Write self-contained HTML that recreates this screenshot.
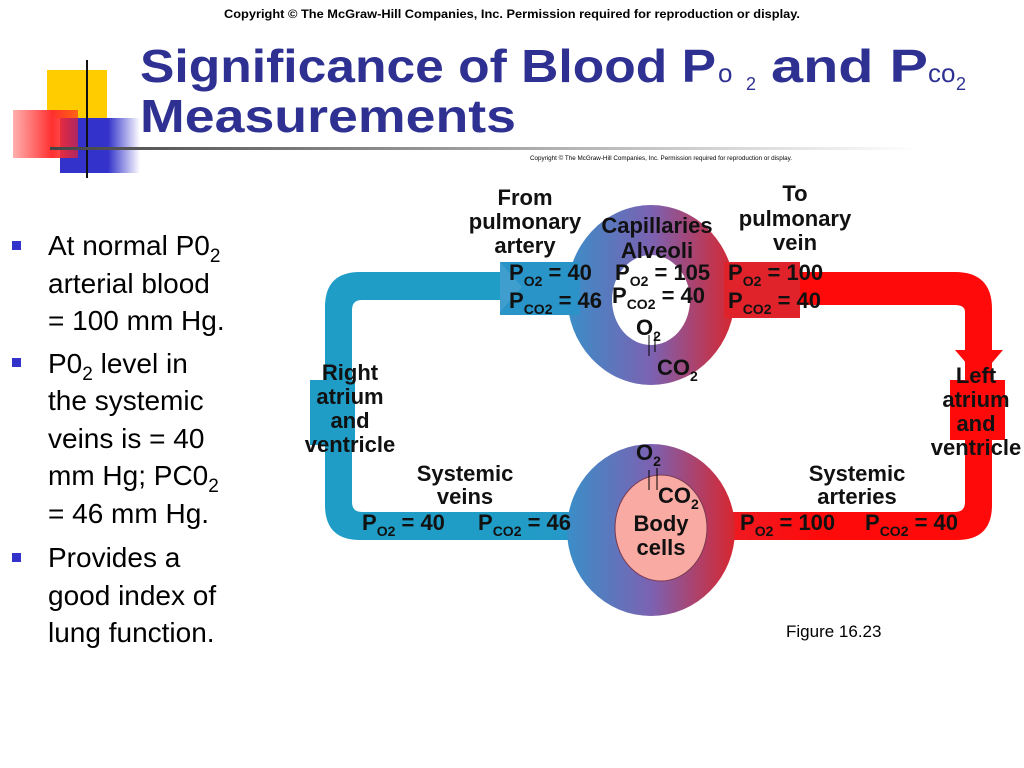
<!DOCTYPE html>
<html><head><meta charset="utf-8"><style>
html,body{margin:0;padding:0;background:#fff;width:1024px;height:768px;overflow:hidden}
svg text{font-family:"Liberation Sans",sans-serif}
</style></head><body>
<svg width="1024" height="768" viewBox="0 0 1024 768" xmlns="http://www.w3.org/2000/svg">
<defs>
<linearGradient id="hg" x1="0" y1="0" x2="1" y2="0" gradientUnits="objectBoundingBox">
<stop offset="0" stop-color="#1f9dc6"/><stop offset="0.36" stop-color="#2a95c8"/>
<stop offset="0.5" stop-color="#7a64b4"/><stop offset="0.62" stop-color="#e8202a"/><stop offset="1" stop-color="#ff0a0a"/></linearGradient>
<linearGradient id="rg" x1="0" y1="0" x2="1" y2="0">
<stop offset="0" stop-color="#3a8ec8"/><stop offset="0.5" stop-color="#7b62b2"/><stop offset="1" stop-color="#d7262f"/></linearGradient>
<linearGradient id="gl" x1="0" y1="0" x2="1" y2="0"><stop offset="0" stop-color="#444"/><stop offset="1" stop-color="#fff"/></linearGradient>
<linearGradient id="rf" x1="0" y1="0" x2="1" y2="0"><stop offset="0" stop-color="#ffb0b0"/><stop offset="0.6" stop-color="#ff3030"/><stop offset="1" stop-color="#ff2020" stop-opacity="0.6"/></linearGradient>
<linearGradient id="bf" x1="0" y1="0" x2="1" y2="0"><stop offset="0" stop-color="#3333cc"/><stop offset="0.6" stop-color="#3333cc"/><stop offset="1" stop-color="#fff"/></linearGradient>
</defs>
<rect x="47" y="70" width="60" height="48" fill="#ffcc00"/>
<rect x="60" y="118" width="80" height="55" fill="url(#bf)"/>
<rect x="13" y="110" width="65" height="48" fill="url(#rf)"/>
<line x1="87" y1="60" x2="87" y2="178" stroke="#111" stroke-width="2"/>
<rect x="50" y="147" width="870" height="3" fill="url(#gl)"/>
<text x="512" y="18" font-size="12" font-weight="bold" text-anchor="middle" textLength="576" lengthAdjust="spacingAndGlyphs">Copyright © The McGraw-Hill Companies, Inc. Permission required for reproduction or display.</text>
<text x="530" y="160" font-size="6" textLength="262" lengthAdjust="spacingAndGlyphs">Copyright © The McGraw-Hill Companies, Inc. Permission required for reproduction or display.</text>
<g fill="#2e3192" font-weight="bold">
<text x="140" y="82" font-size="46" textLength="576" lengthAdjust="spacingAndGlyphs">Significance of Blood P</text>
<text x="718" y="82" font-size="26" font-weight="normal">o</text><text x="746" y="90" font-size="18" font-weight="normal">2</text>
<text x="771" y="82" font-size="46" textLength="157" lengthAdjust="spacingAndGlyphs">and P</text>
<text x="928" y="82" font-size="26" font-weight="normal">co</text><text x="956" y="90" font-size="18" font-weight="normal">2</text>
<text x="140" y="132" font-size="46" textLength="376" lengthAdjust="spacingAndGlyphs">Measurements</text>
</g>
<g fill="#3333cc"><rect x="12" y="241" width="9" height="9"/><rect x="12" y="358" width="9" height="9"/><rect x="12" y="553" width="9" height="9"/></g>
<g font-size="28" fill="#000">
<text x="48" y="255">At normal P0<tspan font-size="19" dy="7">2</tspan></text>
<text x="48" y="293">arterial blood</text>
<text x="48" y="330">= 100 mm Hg.</text>
<text x="48" y="373">P0<tspan font-size="19" dy="7">2</tspan><tspan dy="-7"> level in</tspan></text>
<text x="48" y="410">the systemic</text>
<text x="48" y="448">veins is = 40</text>
<text x="48" y="485">mm Hg; PC0<tspan font-size="19" dy="7">2</tspan></text>
<text x="48" y="523">= 46 mm Hg.</text>
<text x="48" y="567">Provides a</text>
<text x="48" y="605">good index of</text>
<text x="48" y="642">lung function.</text>
</g>
<path d="M500 272 L360 272 Q325 272 325 307 L325 505 Q325 540 360 540 L567 540 L567 512 L362 512 Q352 512 352 502 L352 310 Q352 300 362 300 L500 300 Z" fill="#1f9dc6"/>
<path d="M800 272 L955 272 Q992 272 992 309 L992 505 Q992 540 957 540 L735 540 L735 512 L955 512 Q965 512 965 502 L965 312 Q965 305 955 305 L800 305 Z" fill="#ff0a0a"/>
<path d="M955 350 L1003 350 L979 378 Z" fill="#ff0a0a"/>
<rect x="310" y="380" width="45" height="65" fill="#1f9dc6"/>
<rect x="950" y="380" width="55" height="60" fill="#ff0a0a"/>
<rect x="500" y="262" width="300" height="53" fill="url(#hg)"/>
<path d="M500 262 L522 287 L500 312 Z" fill="#fff"/>
<ellipse cx="651" cy="295" rx="84" ry="90" fill="url(#rg)"/>
<rect x="500" y="262" width="80" height="53" fill="#2a93c8" opacity="0.9"/>
<rect x="724" y="262" width="76" height="56" fill="#e0232b"/>
<ellipse cx="651" cy="300" rx="39" ry="45" fill="#fff"/>
<path d="M500 512 L820 512 L820 540 L500 540 Z" fill="url(#hg)"/>
<ellipse cx="651" cy="530" rx="84" ry="86" fill="url(#rg)"/>
<ellipse cx="661" cy="528" rx="46" ry="53" fill="#f9aaa2" stroke="#7a3a50" stroke-width="1"/>
<g stroke="#000" stroke-width="1"><line x1="649" y1="335" x2="649" y2="356"/><line x1="655" y1="333" x2="655" y2="352"/>
<line x1="649" y1="470" x2="649" y2="490"/><line x1="657" y1="468" x2="657" y2="490"/></g>
<g font-size="22" font-weight="bold" fill="#111" text-anchor="middle">
<text x="525" y="205">From</text><text x="525" y="229">pulmonary</text><text x="525" y="253">artery</text>
<text x="795" y="201">To</text><text x="795" y="226">pulmonary</text><text x="795" y="250">vein</text>
<text x="657" y="233">Capillaries</text><text x="657" y="258">Alveoli</text>
<text x="350" y="380">Right</text><text x="350" y="404">atrium</text><text x="350" y="428">and</text><text x="350" y="452">ventricle</text>
<text x="976" y="383">Left</text><text x="976" y="407">atrium</text><text x="976" y="431">and</text><text x="976" y="455">ventricle</text>
<text x="465" y="481">Systemic</text><text x="465" y="504">veins</text>
<text x="857" y="481">Systemic</text><text x="857" y="504">arteries</text>
<text x="661" y="531">Body</text><text x="661" y="555">cells</text>
</g>
<g font-size="22" font-weight="bold" fill="#111">
<text x="509" y="280">P<tspan font-size="14" dy="6">O2</tspan><tspan dy="-6"> = 40</tspan></text>
<text x="509" y="308">P<tspan font-size="14" dy="6">CO2</tspan><tspan dy="-6"> = 46</tspan></text>
<text x="615" y="280">P<tspan font-size="14" dy="6">O2</tspan><tspan dy="-6"> = 105</tspan></text>
<text x="612" y="303">P<tspan font-size="14" dy="6">CO2</tspan><tspan dy="-6"> = 40</tspan></text>
<text x="728" y="280">P<tspan font-size="14" dy="6">O2</tspan><tspan dy="-6"> = 100</tspan></text>
<text x="728" y="308">P<tspan font-size="14" dy="6">CO2</tspan><tspan dy="-6"> = 40</tspan></text>
<text x="636" y="335">O<tspan font-size="14" dy="6">2</tspan></text>
<text x="657" y="375">CO<tspan font-size="14" dy="6">2</tspan></text>
<text x="636" y="460">O<tspan font-size="14" dy="6">2</tspan></text>
<text x="658" y="503">CO<tspan font-size="14" dy="6">2</tspan></text>
<text x="362" y="530">P<tspan font-size="14" dy="6">O2</tspan><tspan dy="-6"> = 40</tspan></text>
<text x="478" y="530">P<tspan font-size="14" dy="6">CO2</tspan><tspan dy="-6"> = 46</tspan></text>
<text x="740" y="530">P<tspan font-size="14" dy="6">O2</tspan><tspan dy="-6"> = 100</tspan></text>
<text x="865" y="530">P<tspan font-size="14" dy="6">CO2</tspan><tspan dy="-6"> = 40</tspan></text>
</g>
<text x="786" y="637" font-size="17" fill="#000">Figure 16.23</text>
</svg>
</body></html>
